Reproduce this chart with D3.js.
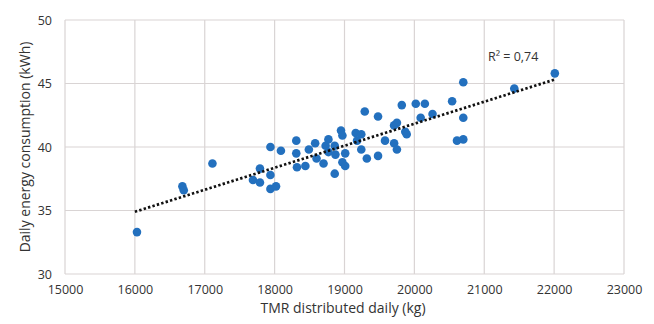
<!DOCTYPE html>
<html>
<head>
<meta charset="utf-8">
<script src="https://cdn.jsdelivr.net/npm/d3@7"></script>
<style>
  html, body { margin: 0; padding: 0; background: #fff; }
  text { font-family: "Open Sans", "Liberation Sans", sans-serif; fill: #333; }
</style>
</head>
<body>
<div id="chart"></div>
<script>
// TMR distributed daily (kg) vs daily energy consumption (kWh)
const tmr = [
  16030, 16680, 16700, 17110, 17690, 17790, 17790, 17940, 17940, 18020,
  17940, 18090, 18310, 18310, 18320, 18440, 18490, 18580, 18600, 18700,
  18730, 18770, 18770, 18860, 18870, 18860, 18950, 18970, 18970, 19010,
  19010, 19160, 19240, 19180, 19240, 19320, 19290, 19480, 19480, 19580,
  19710, 19750, 19710, 19750, 19820, 19870, 19890, 20020, 20150, 20090,
  20260, 20540, 20700, 20700, 20610, 20700, 21430, 22010
];
const energy = [
  33.3, 36.9, 36.6, 38.7, 37.4, 38.3, 37.2, 37.8, 36.7, 36.9,
  40.0, 39.7, 40.5, 39.5, 38.4, 38.5, 39.8, 40.3, 39.1, 38.7,
  40.1, 40.6, 39.6, 40.1, 39.4, 37.9, 41.3, 40.9, 38.8, 38.5,
  39.5, 41.1, 41.0, 40.5, 39.8, 39.1, 42.8, 42.4, 39.3, 40.5,
  41.7, 41.9, 40.3, 39.8, 43.3, 41.2, 41.0, 43.4, 43.4, 42.3,
  42.6, 43.6, 45.1, 42.3, 40.5, 40.6, 44.6, 45.8
];
const trendX = [16000, 22000];
const trendY = [34.9, 45.3];
const xTicks = [15000, 16000, 17000, 18000, 19000, 20000, 21000, 22000, 23000];
const yTicks = [30, 35, 40, 45, 50];
const r2Label = "R² = 0,74";

const W = 654, H = 324;
const svg = d3.select("#chart").append("svg").attr("width", W).attr("height", H);

const x = d3.scaleLinear().domain([15000, 23000]).range([65, 624]);
const y = d3.scaleLinear().domain([30, 50]).range([274, 20]);

// grid
svg.append("g").selectAll("line").data(xTicks).join("line")
  .attr("x1", d => x(d)).attr("x2", d => x(d))
  .attr("y1", y(30)).attr("y2", y(50))
  .attr("stroke", "#d9d4d4").attr("stroke-width", 1.2);
svg.append("g").selectAll("line").data(yTicks).join("line")
  .attr("x1", x(15000)).attr("x2", x(23000))
  .attr("y1", d => y(d)).attr("y2", d => y(d))
  .attr("stroke", "#d9d4d4").attr("stroke-width", 1.2);

// axes labels
const xAxis = svg.append("g").attr("transform", `translate(0,${y(30)})`)
  .call(d3.axisBottom(x).tickValues(xTicks).tickFormat(d3.format("d")).tickSize(0).tickPadding(11));
xAxis.select(".domain").remove();
xAxis.selectAll("text").attr("font-size", 12.5).attr("fill", "#333")
  .style("font-family", "'Open Sans', sans-serif");

const yAxis = svg.append("g").attr("transform", `translate(${x(15000)},0)`)
  .call(d3.axisLeft(y).tickValues(yTicks).tickSize(0).tickPadding(13));
yAxis.select(".domain").remove();
yAxis.selectAll("text").attr("font-size", 12.5).attr("fill", "#333")
  .style("font-family", "'Open Sans', sans-serif");

// points
const pts = tmr.map((t, i) => ({ t, e: energy[i] }));
svg.append("g").selectAll("circle").data(pts).join("circle")
  .attr("cx", d => x(d.t)).attr("cy", d => y(d.e)).attr("r", 4.3)
  .attr("fill", "#2370be");

// trend line
const trend = trendX.map((t, i) => [t, trendY[i]]);
svg.append("path").datum(trend)
  .attr("d", d3.line().x(d => x(d[0])).y(d => y(d[1])))
  .attr("fill", "none").attr("stroke", "#111")
  .attr("stroke-width", 2.7).attr("stroke-dasharray", "2.4,2.2");

// r squared
svg.append("text").attr("x", 488).attr("y", 61)
  .attr("font-size", 12.5).attr("fill", "#333").text(r2Label);

// titles
svg.append("text").attr("x", 343).attr("y", 313).attr("text-anchor", "middle")
  .attr("font-size", 14).attr("fill", "#333").text("TMR distributed daily (kg)");
svg.append("text").attr("transform", `translate(30,${y(40)}) rotate(-90)`)
  .attr("text-anchor", "middle").attr("font-size", 14).attr("fill", "#333")
  .text("Daily energy consumption (kWh)");
</script>
</body>
</html>
